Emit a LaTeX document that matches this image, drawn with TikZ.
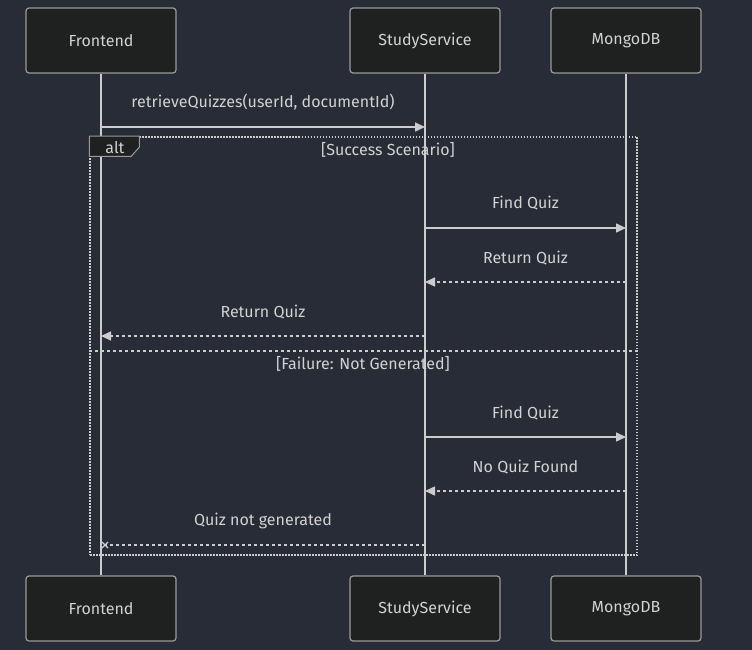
\documentclass[tikz,border=0pt]{standalone}
\usepackage{fontspec}
\setmainfont{Fira Sans}
\usepackage{tikz}
\usetikzlibrary{calc}
\usetikzlibrary{arrows.meta}
\usetikzlibrary{positioning}
\definecolor{bgcol}{HTML}{282C37}
\definecolor{boxcol}{HTML}{1F2020}
\definecolor{rimcol}{HTML}{9A9A9A}
\definecolor{linecol}{HTML}{CCCCCC}
\definecolor{txtcol}{HTML}{D2D2D2}
\tikzset{>={Triangle[length=10pt,width=9pt]}}
\tikzstyle{actor} = [rectangle, rounded corners=3pt, draw=rimcol, line width=1.2pt, fill=boxcol, text=txtcol, minimum width=150pt, minimum height=65pt]
\tikzstyle{life} = [-, draw=linecol, line width=1.5pt]
\tikzstyle{msg} = [->, draw=linecol, line width=1.5pt]
\tikzstyle{reply} = [msg, dash pattern=on 3pt off 3pt]
\tikzstyle{lbl} = [draw=none, text=txtcol, inner sep=0]
\tikzstyle{frame} = [draw=linecol, line width=1.5pt, dash pattern=on 1.5pt off 1.5pt]

\begin{document}
\begin{tikzpicture}[x=1pt, y=-1pt, font=\fontsize{16}{19}\selectfont]
\fill[bgcol] (0,0) rectangle (752,650);
\useasboundingbox (0,0) rectangle (752,650);
% participants
\node [actor] (F) at (101, 40.5) {Frontend};
\node [actor] (S) at (425, 40.5) {StudyService};
\node [actor] (M) at (626, 40.5) {MongoDB};
\node [actor] (Fb) at (101, 608.5) {Frontend};
\node [actor] (Sb) at (425, 608.5) {StudyService};
\node [actor] (Mb) at (626, 608.5) {MongoDB};
\draw [life] (F) to (Fb);
\draw [life] (S) to (Sb);
\draw [life] (M) to (Mb);
% alt frame
\node [frame, minimum width=547pt, minimum height=418pt, inner sep=0] (alt) at (363.5, 346) {};
\draw [draw=rimcol, fill=boxcol, line width=1pt] (alt.north west) -- ++(50,0) -- ++(0,11) -- ++(-8,9) -- ++(-42,0) -- cycle;
\node [lbl] (altlbl) at (115, 148) {alt};
\node [lbl] (case1) at (388, 150) {[Success Scenario]};
\draw [frame, dash pattern=on 3pt off 3pt] ($(alt.west)+(0,5)$) -- ($(alt.east)+(0,5)$);
\node [lbl] (case2) at (363, 364) {[Failure: Not Generated]};
% message points
\coordinate (f1) at (101, 127); \coordinate (s1) at (425, 127);
\coordinate (s2) at (425, 228); \coordinate (m2) at (626, 228);
\coordinate (m3) at (626, 282); \coordinate (s3) at (425, 282);
\coordinate (s4) at (425, 336); \coordinate (f4) at (101, 336);
\coordinate (s5) at (425, 437); \coordinate (m5) at (626, 437);
\coordinate (m6) at (626, 491); \coordinate (s6) at (425, 491);
\coordinate (s7) at (425, 545); \coordinate (f7) at (101, 545);
% messages
\draw [msg] (f1) to node[lbl, yshift=25pt] {retrieveQuizzes(userId, documentId)} (s1);
\draw [msg] (s2) to node[lbl, yshift=25pt] {Find Quiz} (m2);
\draw [reply] (m3) to node[lbl, yshift=24pt] {Return Quiz} (s3);
\draw [reply] (s4) to node[lbl, yshift=24pt] {Return Quiz} (f4);
\draw [msg] (s5) to node[lbl, yshift=24pt] {Find Quiz} (m5);
\draw [reply] (m6) to node[lbl, yshift=24pt] {No Quiz Found} (s6);
\draw [reply, -] (s7) to node[lbl, yshift=24pt] {Quiz not generated} (f7);
\draw [draw=linecol, line width=1.3pt] ($(f7)+(1,-3)$) -- ($(f7)+(7,3)$) ($(f7)+(1,3)$) -- ($(f7)+(7,-3)$);
\end{tikzpicture}
\end{document}
